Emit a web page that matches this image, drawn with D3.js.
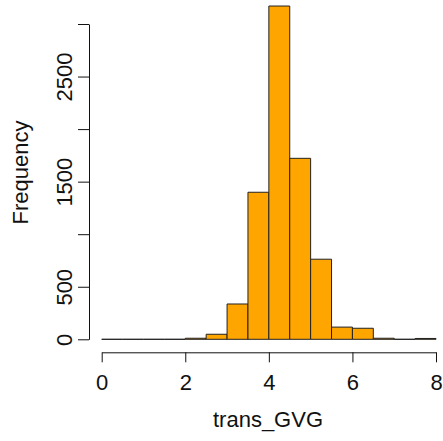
<!DOCTYPE html>
<html>
<head>
<meta charset="utf-8">
<script src="https://cdn.jsdelivr.net/npm/d3@7"></script>
<style>
  body { margin: 0; background: #fff; }
  svg text { font-family: "Liberation Sans", Arial, sans-serif; fill: #111; }
</style>
</head>
<body>
<svg id="chart" width="443" height="441"></svg>
<script>
'use strict';

// histogram of trans_GVG, bins of width 0.5 from 0 to 8
const binStarts = [0, 0.5, 1, 1.5, 2, 2.5, 3, 3.5, 4, 4.5, 5, 5.5, 6, 6.5, 7, 7.5];
const binWidth = 0.5;
const counts = [0, 0, 0, 0, 10, 48, 336, 1399, 3171, 1722, 762, 116, 105, 10, 0, 8];
const xTicks = [0, 2, 4, 6, 8];
const yTicks = [0, 500, 1000, 1500, 2000, 2500, 3000];
const yLabelled = [0, 500, 1500, 2500];

const svg = d3.select('#chart');
const fontSize = 22;

const x = d3.scaleLinear().domain([0, 8]).range([101.7, 436]);
const y = d3.scaleLinear().domain([0, 3000]).range([339.3, 24]);

//
// bars (as closed paths so that empty bins still show as a line, like R)
//
svg.append('g')
    .selectAll('path')
    .data(binStarts)
    .join('path')
    .attr('d', (d, i) => {
        const path = d3.path();
        path.moveTo(x(d), y(0));
        path.lineTo(x(d), y(counts[i]));
        path.lineTo(x(d + binWidth), y(counts[i]));
        path.lineTo(x(d + binWidth), y(0));
        path.closePath();
        return path.toString();
    })
    .attr('fill', '#FFA500')
    .attr('stroke', '#222')
    .attr('stroke-width', 1);

//
// x axis
//
const xAxis = d3.axisBottom(x)
    .tickValues(xTicks)
    .tickSize(10)
    .tickSizeOuter(0)
    .tickFormat(d3.format('d'));

const gx = svg.append('g')
    .attr('transform', 'translate(0,352.3)')
    .call(xAxis);
gx.select('.domain').attr('stroke', '#111');
gx.selectAll('.tick line').attr('stroke', '#111');
gx.selectAll('.tick text')
    .attr('y', 37.7)
    .attr('dy', 0)
    .attr('font-size', fontSize)
    .attr('font-family', '"Liberation Sans", Arial, sans-serif')
    .attr('fill', '#111');

//
// y axis
//
const yAxis = d3.axisLeft(y)
    .tickValues(yTicks)
    .tickSize(11)
    .tickSizeOuter(0)
    .tickFormat(d => yLabelled.includes(d) ? String(d) : '');

const gy = svg.append('g')
    .attr('transform', 'translate(89,0)')
    .call(yAxis);
gy.select('.domain').attr('stroke', '#111');
gy.selectAll('.tick line').attr('stroke', '#111');
gy.selectAll('.tick text')
    .attr('x', 0)
    .attr('y', 0)
    .attr('dy', 0)
    .attr('transform', 'translate(-17,0) rotate(-90)')
    .attr('text-anchor', 'middle')
    .attr('font-size', fontSize)
    .attr('font-family', '"Liberation Sans", Arial, sans-serif')
    .attr('fill', '#111');

//
// axis titles
//
svg.append('text')
    .attr('x', 268)
    .attr('y', 427)
    .attr('text-anchor', 'middle')
    .attr('font-size', fontSize)
    .text('trans_GVG');

svg.append('text')
    .attr('transform', 'translate(28,172.5) rotate(-90)')
    .attr('text-anchor', 'middle')
    .attr('font-size', fontSize)
    .text('Frequency');
</script>
</body>
</html>
